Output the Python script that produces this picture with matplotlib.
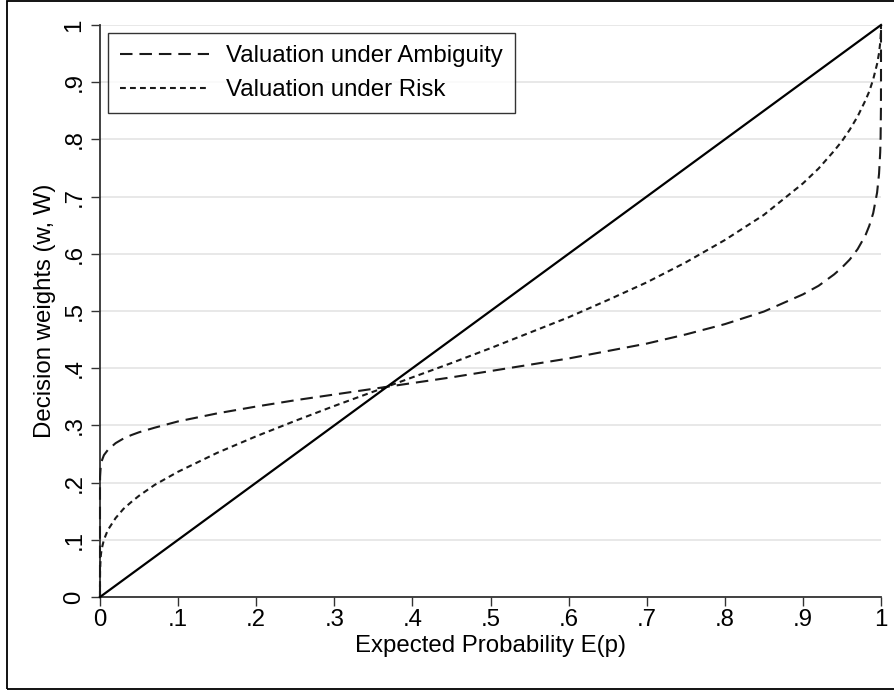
import matplotlib
matplotlib.use("Agg")
import matplotlib.pyplot as plt
from matplotlib.patches import Rectangle
from matplotlib.lines import Line2D

plt.rcParams['font.family'] = ['Liberation Sans', 'DejaVu Sans']
plt.rcParams['lines.scale_dashes'] = False

# Data
prob = [0.0, 0.000001, 0.00001, 0.0001, 0.001, 0.002, 0.005, 0.01, 0.02, 0.03, 0.04,
        0.05, 0.07, 0.10, 0.15, 0.20, 0.25, 0.30, 0.35, 0.40, 0.45, 0.50, 0.55,
        0.60, 0.65, 0.70, 0.75, 0.80, 0.85, 0.90, 0.92, 0.94, 0.95, 0.96, 0.97,
        0.98, 0.985, 0.99, 0.995, 0.9975, 0.999, 0.9995, 0.9999, 0.99999, 1.0]
w_ambiguity = [0.0, 0.185, 0.196, 0.210, 0.230, 0.237, 0.248, 0.257, 0.269, 0.277, 0.283,
               0.288, 0.296, 0.307, 0.321, 0.333, 0.344, 0.354, 0.364, 0.374, 0.384, 0.395, 0.406,
               0.417, 0.430, 0.443, 0.459, 0.477, 0.499, 0.529, 0.544, 0.564, 0.576, 0.590, 0.608,
               0.632, 0.649, 0.671, 0.707, 0.740, 0.778, 0.804, 0.853, 0.905, 1.0]
w_risk = [0.0, 0.024, 0.034, 0.048, 0.072, 0.083, 0.100, 0.117, 0.138, 0.154, 0.166,
          0.177, 0.196, 0.219, 0.252, 0.281, 0.308, 0.334, 0.359, 0.384, 0.409, 0.435, 0.462,
          0.489, 0.519, 0.550, 0.585, 0.624, 0.668, 0.723, 0.749, 0.780, 0.797, 0.817, 0.840,
          0.868, 0.884, 0.905, 0.932, 0.951, 0.969, 0.978, 0.990, 0.997, 1.0]
diag_x = [0.0, 1.0]
diag_y = [0.0, 1.0]

ticks = [0.0, 0.1, 0.2, 0.3, 0.4, 0.5, 0.6, 0.7, 0.8, 0.9, 1.0]
tick_labels = ["0", ".1", ".2", ".3", ".4", ".5", ".6", ".7", ".8", ".9", "1"]
labels = ["Valuation under Ambiguity", "Valuation under Risk"]

W, H = 894, 693
fig = plt.figure(figsize=(W / 100, H / 100), dpi=100)
ax = fig.add_axes([100 / W, 1 - 597 / H, 781 / W, 572 / H])

FS = 17.3
amb_dash = (0, (9.0, 5.0))
risk_dash = (0, (4.2, 3.0))

ax.plot(prob, w_ambiguity, color='#1a1a1a', lw=1.5, linestyle=amb_dash, clip_on=False, zorder=3)
ax.plot(prob, w_risk, color='#1a1a1a', lw=1.5, linestyle=risk_dash, clip_on=False, zorder=3)
ax.plot(diag_x, diag_y, color='black', lw=1.6, clip_on=False, zorder=4)

ax.set_xlim(0, 1)
ax.set_ylim(0, 1)
ax.set_xticks(ticks)
ax.set_xticklabels(tick_labels, fontsize=FS)
ax.set_yticks(ticks)
ax.set_yticklabels(tick_labels, fontsize=FS, rotation=90, va='center')
ax.tick_params(axis='both', direction='out', length=6.5, width=1.0, color='#333333')
ax.tick_params(axis='x', pad=2)
ax.tick_params(axis='y', pad=4)

ax.yaxis.grid(True, color='#e6e6e6', lw=1.3)
ax.set_axisbelow(True)
for s in ['top', 'right']:
    ax.spines[s].set_visible(False)
for s in ['left', 'bottom']:
    ax.spines[s].set_color('#333333')
    ax.spines[s].set_linewidth(1.3)

ax.set_xlabel("Expected Probability E(p)", fontsize=FS, labelpad=3)
ax.set_ylabel("Decision weights (w, W)", fontsize=FS, labelpad=5)

handles = [Line2D([], [], color='#1a1a1a', lw=1.5, linestyle=amb_dash),
           Line2D([], [], color='#1a1a1a', lw=1.5, linestyle=risk_dash)]
leg = ax.legend(handles, labels, loc='upper left',
                bbox_to_anchor=(108 / W, 1 - 33 / H), bbox_transform=fig.transFigure,
                fontsize=FS, frameon=True, fancybox=False, shadow=False,
                handlelength=3.7, handletextpad=0.7, labelspacing=0.5,
                borderpad=0.5, borderaxespad=0)
leg.get_frame().set_edgecolor('black')
leg.get_frame().set_linewidth(1.0)
leg.get_frame().set_facecolor('white')

# outer graph-region border
fig.patches.append(Rectangle((7 / W, 1 - 689 / H), 1.0, (688) / H,
                             transform=fig.transFigure, fill=False,
                             edgecolor='black', lw=1.3))

fig.savefig("out.png", dpi=100)
